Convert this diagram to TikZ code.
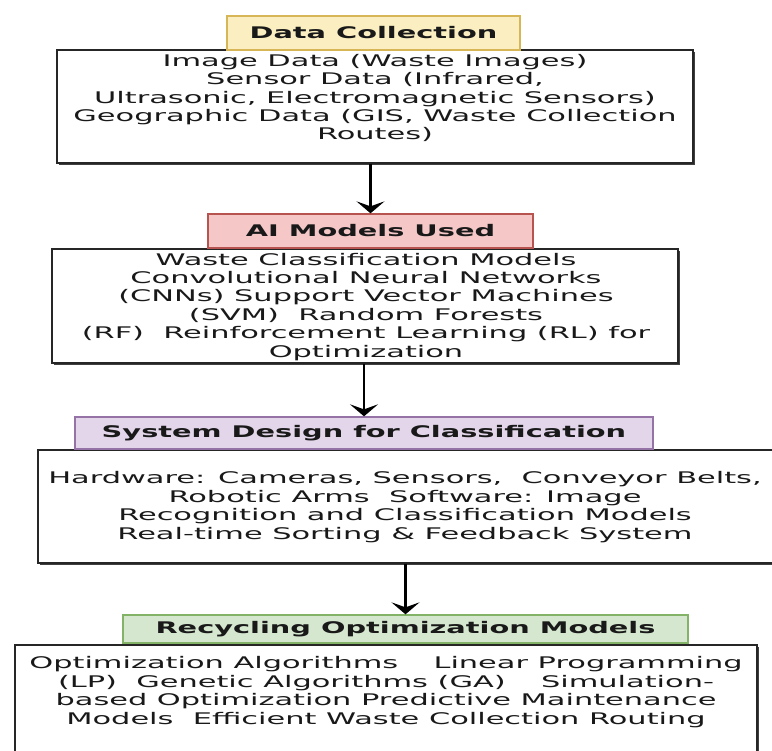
\documentclass[tikz,border=0pt]{standalone}
\usepackage{fontspec}
\setmainfont{DejaVu Sans}
\newfontfamily\bodyfont[FakeStretch=1.9]{DejaVu Sans}
\newfontfamily\headfont[FakeStretch=1.8]{DejaVu Sans Bold}
\usetikzlibrary{arrows.meta,shadows}
\definecolor{yelfill}{HTML}{FBEFC2}
\definecolor{yeldraw}{HTML}{D6B656}
\definecolor{redfill}{HTML}{F5C7C7}
\definecolor{reddraw}{HTML}{B85450}
\definecolor{purfill}{HTML}{E3D6EA}
\definecolor{purdraw}{HTML}{9673A6}
\definecolor{grnfill}{HTML}{D5E8CF}
\definecolor{grndraw}{HTML}{82B366}
\tikzset{
  titlebox/.style 2 args={draw=#2, fill=#1, line width=1.3pt, rectangle, inner sep=0pt,
    font=\headfont\fontsize{16}{18}\selectfont, text=black!90},
  contentbox/.style={draw=black!85, fill=white, line width=1.3pt, rectangle, inner sep=0pt,
    drop shadow={shadow xshift=2pt, shadow yshift=-2pt, fill=black!75, opacity=1}},
  bodytext/.style={align=center, inner sep=0pt, font=\bodyfont\fontsize{16}{18.4}\selectfont, text=black!90},
  flowarrow/.style={draw=black, line width=2.8pt, -{Stealth[length=12pt,width=28pt,inset=5pt]}}
}
\begin{document}
\begin{tikzpicture}[x=1pt,y=-1pt]
\useasboundingbox (0,0) rectangle (772,751);
\fill[white] (0,0) rectangle (772,751);

% block 1
\node[contentbox, minimum width=636pt, minimum height=113pt] (c1) at (375,106.5) {};
\node[titlebox={yelfill}{yeldraw}, minimum width=293pt, minimum height=34pt] (t1) at (373.5,33) {Data Collection};
\node[bodytext] (c1t) at (375,98) {Image Data (Waste Images)\\Sensor Data (Infrared,\\Ultrasonic, Electromagnetic Sensors)\\Geographic Data (GIS, Waste Collection\\Routes)};

% block 2
\node[contentbox, minimum width=626pt, minimum height=114pt] (c2) at (365,306) {};
\node[titlebox={redfill}{reddraw}, minimum width=325pt, minimum height=34pt] (t2) at (370.5,231) {AI Models Used};
\node[bodytext, text depth=0pt] (c2t) at (366,305) {Waste Classification Models\\Convolutional Neural Networks\\(CNNs) Support Vector Machines\\(SVM)\ \ Random Forests\\(RF)\ \ Reinforcement Learning (RL) for\\Optimization};

% block 3
\node[contentbox, minimum width=737pt, minimum height=113pt] (c3) at (406.5,506.5) {};
\node[titlebox={purfill}{purdraw}, minimum width=578pt, minimum height=32pt] (t3) at (364,433) {System Design for Classification};
\node[bodytext] (c3t) at (405,507) {Hardware: Cameras, Sensors,\ \ Conveyor Belts,\\Robotic Arms\ \ Software: Image\\Recognition and Classification Models\\Real-time Sorting \& Feedback System};

% block 4
\node[contentbox, minimum width=742pt, minimum height=116pt] (c4) at (386,703) {};
\node[titlebox={grnfill}{grndraw}, minimum width=565pt, minimum height=28pt] (t4) at (405.5,629) {Recycling Optimization Models};
\node[bodytext] (c4t) at (386,692) {Optimization Algorithms\quad\ \ Linear Programming\\(LP)\ \ Genetic Algorithms (GA)\quad\ \ Simulation-\\based Optimization Predictive Maintenance\\Models\ \ Efficient Waste Collection Routing};

% connectors
\draw[flowarrow] (c1.south -| t2.north) -- (t2.north);
\draw[flowarrow] (c2.south -| t3.north) -- (t3.north);
\draw[flowarrow] (c3.south -| t4.north) -- (t4.north);
\end{tikzpicture}
\end{document}
